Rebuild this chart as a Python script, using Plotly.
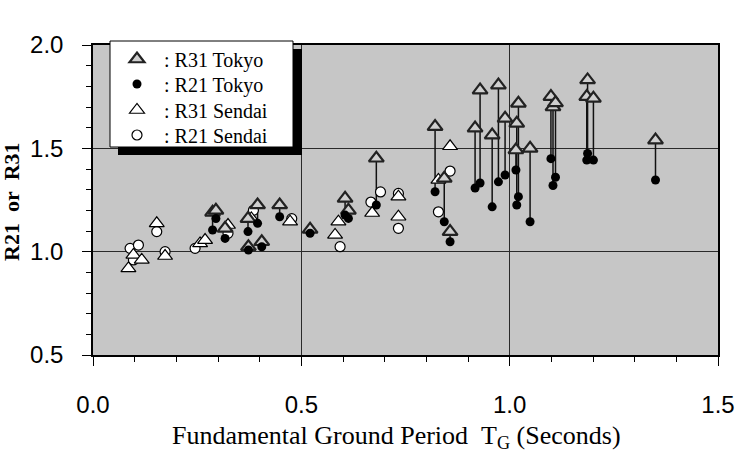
import plotly.graph_objects as go

# ---- data ----
# Tokyo sites: period, R21, R31 (R21 -> R31 joined by a vertical line)
tokyo_tg  = [0.287, 0.295, 0.317, 0.372, 0.373, 0.395, 0.405, 0.448, 0.521, 0.605, 0.613,
             0.680, 0.821, 0.843, 0.857, 0.917, 0.929, 0.958, 0.973, 0.989, 1.015, 1.017,
             1.021, 1.049, 1.099, 1.104, 1.110, 1.185, 1.187, 1.201, 1.350]
tokyo_r21 = [1.105, 1.160, 1.064, 1.097, 1.008, 1.137, 1.024, 1.169, 1.089, 1.177, 1.161,
             1.226, 1.290, 1.145, 1.048, 1.308, 1.332, 1.217, 1.338, 1.371, 1.395, 1.226,
             1.266, 1.145, 1.450, 1.320, 1.360, 1.443, 1.475, 1.443, 1.347]
tokyo_r31 = [1.190, 1.200, 1.113, 1.160, 1.024, 1.226, 1.048, 1.226, 1.108, 1.258, 1.200,
             1.452, 1.605, 1.355, 1.097, 1.598, 1.782, 1.564, 1.806, 1.645, 1.492, 1.621,
             1.718, 1.500, 1.750, 1.700, 1.720, 1.750, 1.831, 1.742, 1.540]

# Sendai sites
sendai_r31_tg = [0.085, 0.097, 0.117, 0.153, 0.173, 0.257, 0.269, 0.324, 0.380, 0.473,
                 0.581, 0.589, 0.670, 0.733, 0.733, 0.829, 0.857]
sendai_r31    = [0.919, 0.984, 0.960, 1.137, 0.979, 1.040, 1.056, 1.129, 1.161, 1.145,
                 1.081, 1.145, 1.187, 1.266, 1.169, 1.347, 1.510]
sendai_r21_tg = [0.089, 0.109, 0.097, 0.153, 0.173, 0.245, 0.324, 0.385, 0.477, 0.593,
                 0.690, 0.667, 0.733, 0.733, 0.829, 0.857]
sendai_r21    = [1.016, 1.032, 0.960, 1.097, 1.000, 1.016, 1.089, 1.200, 1.160, 1.024,
                 1.289, 1.240, 1.282, 1.113, 1.193, 1.390]

x_ticks = [0.0, 0.5, 1.0, 1.5]
y_ticks = [0.5, 1.0, 1.5, 2.0]

names = [": R31 Tokyo", ": R21 Tokyo", ": R31 Sendai", ": R21 Sendai"]

# ---- figure ----
W, H = 737, 460
L, R, T, B = 93, 19, 45, 105
PW, PH = W - L - R, H - T - B

def px_x(p):
    return (p - L) / PW

def px_y(p):
    return (H - B - p) / PH

fig = go.Figure()

# connecting lines for Tokyo pairs
lx, ly = [], []
for x, a, b in zip(tokyo_tg, tokyo_r21, tokyo_r31):
    lx += [x, x, None]
    ly += [a, b, None]
fig.add_trace(go.Scatter(x=lx, y=ly, mode="lines", line=dict(color="#111111", width=1.5),
                         showlegend=False, hoverinfo="skip"))

serif = "Liberation Serif, Times New Roman, serif"
sans = "Liberation Sans, Arial, sans-serif"

fig.add_trace(go.Scatter(x=sendai_r21_tg, y=sendai_r21, mode="markers", name=names[3],
                         legend="legend4",
                         marker=dict(symbol="circle", size=10, color="white",
                                     line=dict(color="black", width=1.2))))
fig.add_trace(go.Scatter(x=sendai_r31_tg, y=sendai_r31, mode="markers", name=names[2],
                         legend="legend3",
                         marker=dict(symbol="triangle-up", size=13, color="white",
                                     line=dict(color="black", width=1.2))))
fig.add_trace(go.Scatter(x=tokyo_tg, y=tokyo_r31, mode="markers", name=names[0],
                         legend="legend",
                         marker=dict(symbol="triangle-up", size=13, color="#cfcfcf",
                                     line=dict(color="#222222", width=2.2))))
fig.add_trace(go.Scatter(x=tokyo_tg, y=tokyo_r21, mode="markers", name=names[1],
                         legend="legend2",
                         marker=dict(symbol="circle", size=9, color="black",
                                     line=dict(color="black", width=0))))

axis_common = dict(
    showline=True, linecolor="black", linewidth=1.5, mirror=True,
    showgrid=True, gridcolor="#2a2a2a", gridwidth=1,
    ticks="outside", ticklen=9, tickwidth=1.2, tickcolor="black",
    zeroline=False, automargin=False,
    tickfont=dict(family=sans, size=24, color="black"),
    minor=dict(dtick=0.1, ticks="outside", ticklen=5, tickwidth=1, tickcolor="black",
               showgrid=False),
)

fig.update_xaxes(range=[0, 1.5], tickvals=x_ticks, ticktext=[f"{v:.1f}" for v in x_ticks],
                 ticklabelstandoff=18, **axis_common)
fig.update_yaxes(range=[0.5, 2.0], tickvals=y_ticks, ticktext=[f"{v:.1f}" for v in y_ticks],
                 ticklabelstandoff=14, **axis_common)

# legend box with drop shadow
shapes = [
    dict(type="rect", xref="paper", yref="paper", x0=px_x(118), x1=px_x(302),
         y0=px_y(155), y1=px_y(49), fillcolor="black", line=dict(width=0), layer="above"),
    dict(type="rect", xref="paper", yref="paper", x0=px_x(110), x1=px_x(293),
         y0=px_y(147), y1=px_y(41), fillcolor="white", line=dict(color="black", width=1),
         layer="above"),
]

def leg(cy):
    return dict(x=px_x(110), y=px_y(cy), xanchor="left", yanchor="middle",
                bgcolor="rgba(0,0,0,0)", borderwidth=0, itemwidth=44,
                font=dict(family=serif, size=20, color="black"))

fig.update_layout(
    width=W, height=H,
    margin=dict(l=L, r=R, t=T, b=B, autoexpand=False),
    paper_bgcolor="white", plot_bgcolor="#c6c6c6",
    shapes=shapes,
    showlegend=True,
    legend=leg(59), legend2=leg(84), legend3=leg(110), legend4=leg(135),
    annotations=[
        dict(text="R21\u00a0\u00a0or\u00a0\u00a0R31", xref="paper", yref="paper",
             x=px_x(11), y=px_y(202),
             xanchor="center", yanchor="middle", textangle=-90, showarrow=False,
             font=dict(family=serif, size=22, color="black", weight="bold")),
        dict(text="Fundamental Ground Period\u00a0\u00a0T<sub>G</sub> (Seconds)", xref="paper",
             yref="paper", x=px_x(396), y=px_y(437), xanchor="center", yanchor="middle",
             showarrow=False, font=dict(family=serif, size=26, color="black")),
    ],
)

fig.write_html("out.html")
